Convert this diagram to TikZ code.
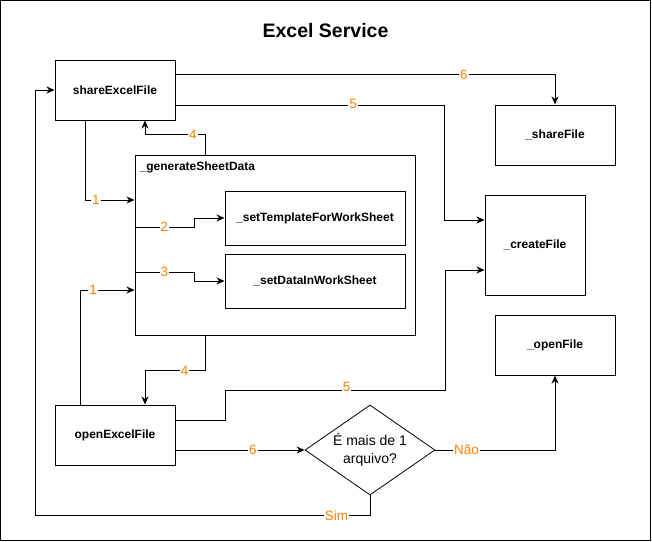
\documentclass[tikz,border=0pt]{standalone}
\usepackage{fontspec}
\setmainfont{Liberation Sans}
\usetikzlibrary{shapes.geometric,arrows.meta,calc}
\definecolor{lblorange}{RGB}{255,128,0}
\begin{document}
\begin{tikzpicture}[x=1pt,y=-1pt,
  box/.style={draw,line width=1pt,minimum width=120pt,minimum height=60pt,inner sep=0pt,
    font=\fontsize{12}{14}\selectfont\bfseries},
  arr/.style={draw,line width=1pt,-{Stealth[length=8pt,width=7pt,inset=2.5pt]}},
  lbl/.style={fill=white,inner sep=1pt,text=lblorange,font=\fontsize{13.5}{15}\selectfont},
  decision/.style={draw,line width=0.8pt,diamond,aspect=1.444,minimum width=130pt,minimum height=90pt,
    inner sep=0pt,align=center,font=\fontsize{14}{18}\selectfont}]
\useasboundingbox (0,0) rectangle (652,541);
\draw[line width=1pt] (0.5,0.5) rectangle (650.5,540.5);
\node[font=\fontsize{19.5}{22}\selectfont\bfseries] (title) at (325.5,31) {Excel Service};

\node[box] (share) at (115,90) {shareExcelFile};
\node[box,minimum width=280pt,minimum height=180pt] (gen) at (275,245) {};
\node[anchor=west,font=\fontsize{12}{14}\selectfont\bfseries,inner sep=0pt] (genlbl) at ($(gen.north west)+(5,13)$) {\_generateSheetData};
\node[box,minimum width=180pt,minimum height=54pt] (tmpl) at (315,218) {\_setTemplateForWorkSheet};
\node[box,minimum width=180pt,minimum height=54pt] (data) at (315,281) {\_setDataInWorkSheet};
\node[box] (shareFile) at (555,135) {\_shareFile};
\node[box,minimum width=100pt,minimum height=100pt] (createFile) at (535,245) {\_createFile};
\node[box] (openFile) at (555,345) {\_openFile};
\node[box] (openExcel) at (115,435) {openExcelFile};
\node[decision] (dia) at (370,450) {É mais de 1\\arquivo?};

% shareExcelFile -> _shareFile
\draw[arr] ($(share.north east)+(0,15)$) -| node[lbl,pos=0.38]{6} (shareFile.north);
% shareExcelFile -> _createFile
\draw[arr] ($(share.south east)+(0,-15)$) -| node[lbl,pos=0.33,yshift=2pt]{5} ($(createFile.west)+(-40,-25)$) -- ($(createFile.west)+(0,-25)$);
% shareExcelFile -> _generateSheetData
\draw[arr] ($(share.south)+(-30,0)$) |- node[lbl,pos=0.61]{1} ($(gen.west)+(0,-45)$);
% _generateSheetData -> shareExcelFile
\draw[arr] ($(gen.north)+(-70,0)$) -- ++(0,-20) -| node[lbl,pos=0.1]{4} ($(share.south)+(30,0)$);
% _generateSheetData -> _setTemplateForWorkSheet
\draw[arr] ($(gen.west)+(0,-18)$) -- node[lbl,pos=0.5]{2} ++(60,0) |- (tmpl.west);
% _generateSheetData -> _setDataInWorkSheet
\draw[arr] ($(gen.west)+(0,27)$) -- node[lbl,pos=0.5]{3} ++(60,0) |- (data.west);
% openExcelFile -> _generateSheetData
\draw[arr] ($(openExcel.north)+(-35,0)$) |- node[lbl,pos=0.62]{1} ($(gen.west)+(0,45)$);
% _generateSheetData -> openExcelFile
\draw[arr] ($(gen.south)+(-70,0)$) -- ++(0,35) -| node[lbl,pos=0.17]{4} ($(openExcel.north)+(30,0)$);
% openExcelFile -> _createFile
\draw[arr] ($(openExcel.east)+(0,-15)$) -- ++(50,0) -- ++(0,-30) -- node[lbl,pos=0.55,yshift=3pt]{5} ++(220,0) |- ($(createFile.west)+(0,25)$);
% openExcelFile -> decision
\draw[arr] ($(openExcel.east)+(0,15)$) -- node[lbl,pos=0.6]{6} (dia.west);
% decision -> _openFile
\draw[arr] (dia.east) -| node[lbl,pos=0.13]{Não} (openFile.south);
% decision -> shareExcelFile
\draw[arr] (dia.south) -- ++(0,20) -- node[lbl,pos=0.1]{Sim} ++(-335,0) |- (share.west);
\end{tikzpicture}
\end{document}
